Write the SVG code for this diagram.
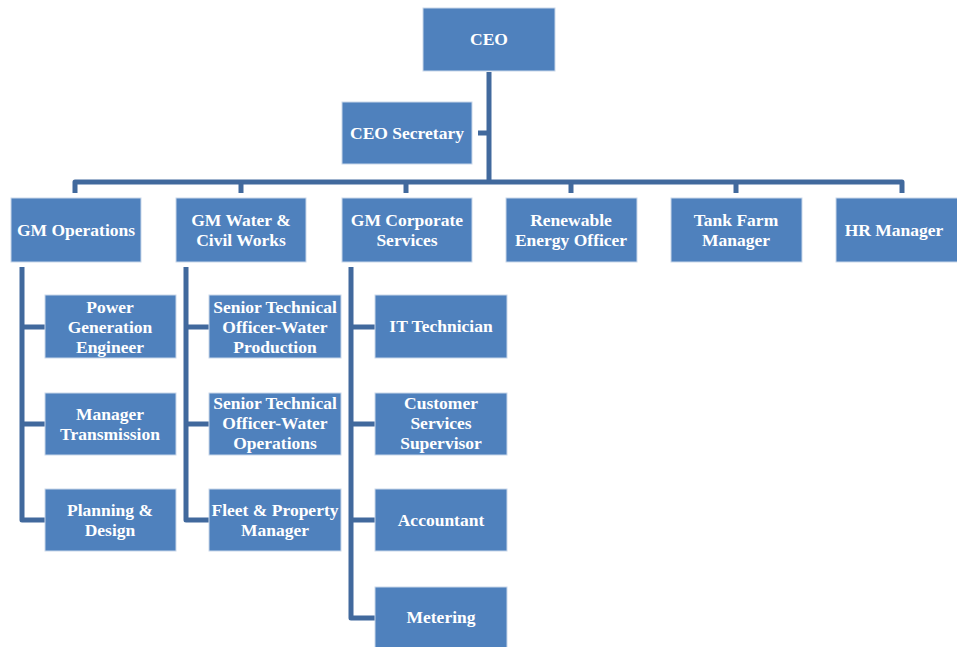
<svg xmlns="http://www.w3.org/2000/svg" width="957" height="647" viewBox="0 0 957 647">
<style>
.box{fill:#4F81BD;stroke:#C9D7EA;stroke-width:1}
.t{font-family:"Liberation Serif","DejaVu Serif",serif;font-weight:bold;font-size:17.5px;fill:#FFFFFF;text-anchor:middle}
.c{fill:none;stroke:#41699D;stroke-width:5;stroke-linejoin:round;stroke-linecap:butt}
</style>
<rect width="957" height="647" fill="#FFFFFF"/>
<g id="connectors">
<path class="c" d="M489 72 V182"/>
<path class="c" d="M478 133 H489"/>
<path class="c" d="M75 193 V182 H902 V193"/>
<path class="c" d="M241 182 V193"/>
<path class="c" d="M406 182 V193"/>
<path class="c" d="M571 182 V193"/>
<path class="c" d="M736 182 V193"/>
<path class="c" d="M22 267 V520 H45"/>
<path class="c" d="M22 327 H45 M22 424 H45"/>
<path class="c" d="M186 267 V520 H209"/>
<path class="c" d="M186 327 H209 M186 424 H209"/>
<path class="c" d="M351 267 V618 H375"/>
<path class="c" d="M351 327 H375 M351 424 H375 M351 520 H375"/>
</g>
<g id="ceo"><rect class="box" x="423" y="8" width="132" height="63"/><text class="t" x="489" y="45">CEO</text></g>
<g id="ceo-secretary"><rect class="box" x="342" y="102" width="130" height="62"/><text class="t" x="407" y="139">CEO Secretary</text></g>
<g id="gm-operations"><rect class="box" x="11" y="198" width="130" height="64"/><text class="t" x="76" y="236">GM Operations</text></g>
<g id="gm-water"><rect class="box" x="176" y="198" width="130" height="64"/><text class="t" x="241" y="226">GM Water &amp;<tspan x="241" y="246">Civil Works</tspan></text></g>
<g id="gm-corporate"><rect class="box" x="342" y="198" width="130" height="64"/><text class="t" x="407" y="226">GM Corporate<tspan x="407" y="246">Services</tspan></text></g>
<g id="renewable"><rect class="box" x="506" y="198" width="131" height="64"/><text class="t" x="571" y="226">Renewable<tspan x="571" y="246">Energy Officer</tspan></text></g>
<g id="tank-farm"><rect class="box" x="671" y="198" width="131" height="64"/><text class="t" x="736" y="226">Tank Farm<tspan x="736" y="246">Manager</tspan></text></g>
<g id="hr-manager"><rect class="box" x="836" y="198" width="131" height="64"/><text class="t" x="894" y="236">HR Manager</text></g>
<g id="power-gen"><rect class="box" x="45" y="295" width="131" height="63"/><text class="t" x="110" y="313">Power<tspan x="110" y="333">Generation</tspan><tspan x="110" y="353">Engineer</tspan></text></g>
<g id="manager-transmission"><rect class="box" x="45" y="393" width="131" height="62"/><text class="t" x="110" y="420">Manager<tspan x="110" y="440">Transmission</tspan></text></g>
<g id="planning-design"><rect class="box" x="45" y="489" width="131" height="62"/><text class="t" x="110" y="516">Planning &amp;<tspan x="110" y="536">Design</tspan></text></g>
<g id="sto-production"><rect class="box" x="209" y="295" width="132" height="63"/><text class="t" x="275" y="313">Senior Technical<tspan x="275" y="333">Officer-Water</tspan><tspan x="275" y="353">Production</tspan></text></g>
<g id="sto-operations"><rect class="box" x="209" y="393" width="132" height="62"/><text class="t" x="275" y="409">Senior Technical<tspan x="275" y="429">Officer-Water</tspan><tspan x="275" y="449">Operations</tspan></text></g>
<g id="fleet-property"><rect class="box" x="209" y="489" width="132" height="62"/><text class="t" x="275" y="516">Fleet &amp; Property<tspan x="275" y="536">Manager</tspan></text></g>
<g id="it-technician"><rect class="box" x="375" y="295" width="132" height="63"/><text class="t" x="441" y="332">IT Technician</text></g>
<g id="customer-services"><rect class="box" x="375" y="393" width="132" height="62"/><text class="t" x="441" y="409">Customer<tspan x="441" y="429">Services</tspan><tspan x="441" y="449">Supervisor</tspan></text></g>
<g id="accountant"><rect class="box" x="375" y="489" width="132" height="62"/><text class="t" x="441" y="526">Accountant</text></g>
<g id="metering"><rect class="box" x="375" y="587" width="132" height="70"/><text class="t" x="441" y="623">Metering</text></g>
</svg>
